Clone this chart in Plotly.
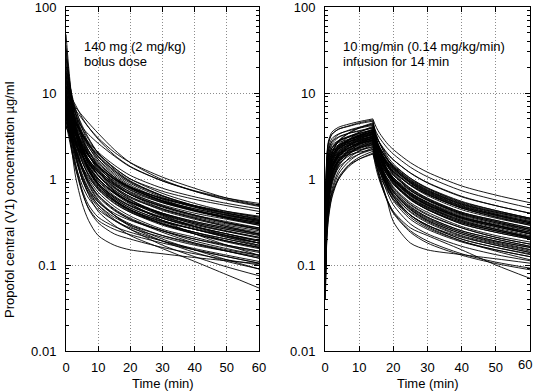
import plotly.graph_objects as go

# ---------------- data ----------------
BOLUS_TIMES = [0, 1, 2, 3, 5, 7, 10, 15, 20, 30, 40, 50, 60]
BOLUS_CONC = [
    [48, 17, 7.5, 4.2, 2.0, 1.3, 0.90, 0.62, 0.48, 0.35, 0.28, 0.23, 0.19],
    [36, 14, 6.5, 3.8, 2.0, 1.35, 0.95, 0.68, 0.54, 0.40, 0.32, 0.27, 0.23],
    [28, 12, 6.0, 3.6, 1.9, 1.3, 0.88, 0.60, 0.46, 0.33, 0.26, 0.21, 0.17],
    [22, 11, 6.2, 4.0, 2.3, 1.6, 1.1, 0.78, 0.60, 0.44, 0.35, 0.29, 0.25],
    [18, 9.5, 5.5, 3.5, 1.9, 1.25, 0.82, 0.55, 0.42, 0.30, 0.24, 0.19, 0.16],
    [15, 9.0, 5.8, 4.0, 2.4, 1.7, 1.2, 0.85, 0.66, 0.48, 0.38, 0.31, 0.26],
    [13, 8.0, 5.0, 3.4, 1.9, 1.3, 0.85, 0.57, 0.44, 0.31, 0.24, 0.20, 0.165],
    [12, 7.8, 5.4, 4.0, 2.6, 1.9, 1.35, 0.95, 0.74, 0.53, 0.42, 0.35, 0.30],
    [11, 6.5, 4.0, 2.6, 1.4, 0.95, 0.65, 0.45, 0.35, 0.25, 0.19, 0.155, 0.13],
    [10, 7.5, 5.8, 4.7, 3.4, 2.7, 2.05, 1.45, 1.1, 0.78, 0.62, 0.52, 0.45],
    [9.5, 6.0, 4.0, 2.8, 1.6, 1.1, 0.75, 0.52, 0.41, 0.30, 0.24, 0.20, 0.17],
    [9.0, 5.2, 3.2, 2.1, 1.15, 0.78, 0.54, 0.38, 0.30, 0.22, 0.175, 0.145, 0.12],
    [8.8, 6.8, 5.4, 4.5, 3.3, 2.6, 1.95, 1.35, 1.0, 0.72, 0.58, 0.49, 0.42],
    [8.5, 6.3, 4.8, 3.8, 2.6, 1.95, 1.4, 0.98, 0.75, 0.54, 0.43, 0.36, 0.31],
    [8.2, 4.8, 2.9, 1.9, 1.0, 0.68, 0.47, 0.33, 0.26, 0.19, 0.15, 0.125, 0.105],
    [8.0, 5.8, 4.3, 3.3, 2.2, 1.6, 1.15, 0.80, 0.62, 0.45, 0.36, 0.30, 0.26],
    [7.8, 7.0, 6.0, 5.2, 4.0, 3.3, 2.6, 1.85, 1.38, 0.95, 0.73, 0.60, 0.52],
    [7.5, 4.2, 2.4, 1.5, 0.72, 0.45, 0.31, 0.23, 0.20, 0.16, 0.135, 0.115, 0.10],
    [7.4, 5.5, 4.2, 3.3, 2.3, 1.7, 1.25, 0.88, 0.68, 0.50, 0.40, 0.34, 0.29],
    [7.2, 5.0, 3.5, 2.6, 1.6, 1.15, 0.80, 0.56, 0.44, 0.32, 0.26, 0.21, 0.18],
    [7.0, 3.6, 1.9, 1.05, 0.52, 0.33, 0.22, 0.17, 0.15, 0.135, 0.122, 0.112, 0.104],
    [7.0, 6.0, 5.1, 4.4, 3.2, 2.5, 1.85, 1.25, 0.92, 0.63, 0.48, 0.39, 0.33],
    [6.8, 4.6, 3.2, 2.3, 1.35, 0.92, 0.62, 0.43, 0.34, 0.25, 0.20, 0.165, 0.14],
    [6.6, 5.2, 4.1, 3.3, 2.3, 1.7, 1.2, 0.80, 0.58, 0.38, 0.28, 0.22, 0.18],
    [6.5, 4.0, 2.6, 1.8, 1.05, 0.75, 0.54, 0.40, 0.33, 0.25, 0.20, 0.17, 0.145],
    [6.3, 5.0, 4.0, 3.3, 2.4, 1.85, 1.4, 1.0, 0.78, 0.56, 0.45, 0.38, 0.33],
    [6.2, 4.3, 3.0, 2.2, 1.3, 0.88, 0.58, 0.38, 0.28, 0.19, 0.14, 0.11, 0.09],
    [6.0, 4.8, 3.8, 3.1, 2.1, 1.55, 1.1, 0.72, 0.52, 0.33, 0.23, 0.17, 0.13],
    [5.8, 4.5, 3.5, 2.8, 1.9, 1.4, 1.0, 0.70, 0.54, 0.40, 0.32, 0.27, 0.23],
    [5.6, 3.6, 2.4, 1.7, 1.0, 0.70, 0.50, 0.36, 0.29, 0.22, 0.18, 0.15, 0.13],
    [5.5, 4.6, 3.8, 3.2, 2.35, 1.85, 1.4, 1.0, 0.80, 0.60, 0.49, 0.42, 0.37],
    [5.3, 3.9, 2.9, 2.2, 1.4, 1.0, 0.70, 0.48, 0.37, 0.26, 0.21, 0.17, 0.145],
    [5.2, 3.2, 2.0, 1.35, 0.75, 0.50, 0.36, 0.28, 0.24, 0.19, 0.155, 0.13, 0.11],
    [5.0, 4.2, 3.5, 2.9, 2.1, 1.6, 1.2, 0.85, 0.66, 0.48, 0.38, 0.32, 0.27],
    [4.8, 3.5, 2.6, 2.0, 1.3, 0.92, 0.64, 0.44, 0.34, 0.24, 0.18, 0.145, 0.12],
    [4.6, 3.9, 3.3, 2.8, 2.1, 1.65, 1.25, 0.90, 0.71, 0.53, 0.43, 0.37, 0.32],
    [4.4, 2.9, 1.9, 1.3, 0.70, 0.46, 0.33, 0.26, 0.225, 0.18, 0.15, 0.125, 0.105],
    [4.2, 3.3, 2.6, 2.1, 1.4, 1.05, 0.76, 0.53, 0.41, 0.29, 0.23, 0.19, 0.16],
    [4.0, 3.4, 2.9, 2.5, 1.9, 1.5, 1.1, 0.75, 0.57, 0.40, 0.31, 0.26, 0.22],
    [9.0, 5.0, 2.9, 1.9, 1.0, 0.66, 0.42, 0.29, 0.22, 0.155, 0.11, 0.077, 0.054],
    [10.5, 6.0, 3.6, 2.4, 1.3, 0.85, 0.56, 0.38, 0.29, 0.20, 0.15, 0.115, 0.09],
    [6.0, 4.0, 2.7, 1.9, 1.1, 0.74, 0.50, 0.34, 0.26, 0.17, 0.125, 0.095, 0.075],
    [12, 8.5, 6.2, 4.8, 3.2, 2.35, 1.7, 1.15, 0.85, 0.58, 0.44, 0.36, 0.31],
    [16, 10, 6.8, 4.9, 3.0, 2.1, 1.45, 1.0, 0.77, 0.56, 0.45, 0.38, 0.33],
    [7.6, 5.8, 4.5, 3.6, 2.5, 1.85, 1.35, 0.93, 0.70, 0.49, 0.38, 0.31, 0.26],
    [5.9, 3.4, 2.1, 1.45, 0.85, 0.60, 0.44, 0.33, 0.27, 0.21, 0.17, 0.145, 0.125],
    [8.6, 5.6, 3.8, 2.7, 1.6, 1.12, 0.78, 0.55, 0.43, 0.32, 0.26, 0.22, 0.19],
    [6.9, 5.4, 4.3, 3.5, 2.5, 1.9, 1.42, 1.02, 0.80, 0.59, 0.48, 0.41, 0.36],
    [9.5, 8.6, 7.6, 6.8, 5.5, 4.5, 3.4, 2.2, 1.55, 0.98, 0.72, 0.57, 0.48],
    [12, 10, 8.4, 7.2, 5.2, 4.0, 2.9, 1.9, 1.4, 0.95, 0.72, 0.58, 0.49],
    [8.5, 7.8, 7.0, 6.3, 5.0, 4.0, 3.0, 2.05, 1.55, 1.05, 0.78, 0.60, 0.50],
    [14, 10.5, 8.0, 6.3, 4.2, 3.0, 2.0, 1.3, 0.95, 0.64, 0.49, 0.40, 0.34],
    [20, 13, 9.0, 6.5, 3.9, 2.6, 1.7, 1.1, 0.82, 0.56, 0.43, 0.35, 0.29],
    [11, 8.8, 7.0, 5.7, 3.9, 2.9, 2.0, 1.35, 1.0, 0.68, 0.52, 0.42, 0.36],
    [10, 7.2, 5.2, 3.9, 2.4, 1.65, 1.1, 0.72, 0.54, 0.37, 0.28, 0.23, 0.19],
    [9.2, 7.5, 6.1, 5.0, 3.5, 2.6, 1.85, 1.25, 0.93, 0.64, 0.49, 0.40, 0.34],
    [25, 14, 8.5, 5.6, 3.0, 1.95, 1.25, 0.82, 0.62, 0.43, 0.34, 0.28, 0.24],
    [32, 15, 7.8, 4.6, 2.3, 1.45, 0.95, 0.64, 0.49, 0.35, 0.28, 0.23, 0.195],
    [16, 11, 7.6, 5.5, 3.2, 2.15, 1.4, 0.90, 0.66, 0.45, 0.35, 0.28, 0.23],
    [7.8, 6.2, 5.0, 4.1, 2.9, 2.15, 1.55, 1.05, 0.79, 0.55, 0.43, 0.35, 0.30],
    [6.4, 5.3, 4.4, 3.7, 2.7, 2.05, 1.5, 1.05, 0.81, 0.59, 0.47, 0.40, 0.35],
    [10.8, 7.0, 4.8, 3.4, 2.0, 1.35, 0.90, 0.60, 0.46, 0.33, 0.26, 0.215, 0.18],
    [7.3, 5.1, 3.7, 2.8, 1.75, 1.25, 0.88, 0.62, 0.49, 0.36, 0.29, 0.245, 0.21],
    [5.4, 4.4, 3.6, 3.0, 2.1, 1.55, 1.1, 0.74, 0.56, 0.39, 0.30, 0.245, 0.205],
    [8.3, 6.0, 4.4, 3.4, 2.15, 1.5, 1.02, 0.68, 0.51, 0.35, 0.27, 0.22, 0.18],
    [13.5, 9.2, 6.4, 4.6, 2.8, 1.9, 1.3, 0.87, 0.66, 0.47, 0.37, 0.31, 0.27],
    [6.1, 4.7, 3.6, 2.85, 1.9, 1.4, 1.0, 0.69, 0.53, 0.38, 0.30, 0.25, 0.21],
    [9.8, 6.6, 4.6, 3.3, 1.95, 1.3, 0.86, 0.57, 0.43, 0.30, 0.23, 0.19, 0.16],
    [4.5, 3.8, 3.1, 2.6, 1.85, 1.4, 1.0, 0.70, 0.54, 0.39, 0.31, 0.26, 0.225],
    [7.9, 6.6, 5.5, 4.6, 3.3, 2.5, 1.8, 1.2, 0.89, 0.61, 0.47, 0.38, 0.32],
    [18, 12, 8.2, 5.9, 3.5, 2.4, 1.6, 1.05, 0.79, 0.55, 0.43, 0.36, 0.31],
    [5.7, 4.3, 3.3, 2.6, 1.7, 1.22, 0.86, 0.58, 0.44, 0.30, 0.23, 0.185, 0.155],
]

INFUSION_TIMES = [0.1, 0.5, 1, 2, 4, 7, 10, 14, 15, 16, 18, 20, 25, 30, 40, 50, 60]
INFUSION_STOP = 14
INFUSION_CONC = [
    [0.40, 1.75, 2.75, 3.5, 4.0, 4.35, 4.65, 5.0, 4.0, 3.4, 2.65, 2.2, 1.55, 1.2, 0.83, 0.65, 0.53],
    [0.38, 1.6, 2.6, 3.3, 3.8, 4.1, 4.4, 4.7, 3.3, 2.6, 1.8, 1.38, 0.9, 0.68, 0.47, 0.38, 0.31],
    [0.13, 0.62, 1.2, 1.95, 2.75, 3.4, 3.9, 4.4, 3.5, 3.0, 2.35, 1.95, 1.37, 1.06, 0.73, 0.57, 0.46],
    [0.34, 1.45, 2.3, 2.95, 3.35, 3.65, 3.9, 4.2, 2.3, 1.6, 0.92, 0.63, 0.38, 0.29, 0.21, 0.17, 0.14],
    [0.12, 0.56, 1.08, 1.76, 2.5, 3.1, 3.5, 4.0, 2.8, 2.2, 1.52, 1.16, 0.76, 0.58, 0.40, 0.32, 0.26],
    [0.30, 1.35, 2.15, 2.7, 3.1, 3.4, 3.6, 3.9, 2.75, 2.15, 1.48, 1.13, 0.74, 0.57, 0.39, 0.31, 0.26],
    [0.08, 0.34, 0.65, 1.14, 1.9, 2.65, 3.2, 3.8, 3.05, 2.6, 2.0, 1.67, 1.18, 0.91, 0.63, 0.49, 0.40],
    [0.11, 0.52, 1.0, 1.63, 2.3, 2.85, 3.25, 3.7, 2.05, 1.4, 0.82, 0.56, 0.34, 0.26, 0.185, 0.15, 0.125],
    [0.11, 0.5, 0.97, 1.58, 2.25, 2.8, 3.15, 3.6, 2.7, 2.2, 1.6, 1.25, 0.85, 0.66, 0.46, 0.37, 0.30],
    [0.28, 1.2, 1.9, 2.45, 2.8, 3.05, 3.25, 3.5, 2.45, 1.9, 1.33, 1.0, 0.66, 0.5, 0.35, 0.28, 0.23],
    [0.07, 0.31, 0.58, 1.0, 1.7, 2.4, 2.9, 3.4, 2.4, 1.85, 1.3, 0.98, 0.65, 0.49, 0.34, 0.27, 0.22],
    [0.10, 0.46, 0.9, 1.45, 2.05, 2.55, 2.9, 3.3, 2.65, 2.25, 1.75, 1.45, 1.02, 0.79, 0.55, 0.43, 0.35],
    [0.10, 0.45, 0.86, 1.4, 2.0, 2.45, 2.8, 3.2, 2.0, 1.45, 0.92, 0.66, 0.41, 0.31, 0.215, 0.17, 0.14],
    [0.25, 1.08, 1.7, 2.15, 2.5, 2.7, 2.9, 3.1, 2.15, 1.7, 1.18, 0.9, 0.59, 0.45, 0.31, 0.25, 0.205],
    [0.06, 0.27, 0.51, 0.9, 1.5, 2.1, 2.55, 3.0, 2.4, 2.05, 1.6, 1.32, 0.93, 0.72, 0.5, 0.39, 0.32],
    [0.09, 0.42, 0.81, 1.32, 1.86, 2.3, 2.65, 3.0, 2.1, 1.65, 1.14, 0.87, 0.57, 0.44, 0.30, 0.24, 0.20],
    [0.09, 0.40, 0.78, 1.28, 1.8, 2.23, 2.55, 2.9, 1.7, 1.1, 0.6, 0.32, 0.18, 0.15, 0.132, 0.118, 0.105],
    [0.22, 0.98, 1.55, 1.95, 2.25, 2.45, 2.6, 2.8, 2.25, 1.9, 1.48, 1.23, 0.87, 0.67, 0.46, 0.36, 0.29],
    [0.06, 0.25, 0.48, 0.84, 1.4, 1.96, 2.38, 2.8, 1.96, 1.54, 1.06, 0.81, 0.53, 0.41, 0.28, 0.22, 0.185],
    [0.08, 0.38, 0.73, 1.19, 1.67, 2.08, 2.38, 2.7, 1.5, 1.03, 0.6, 0.41, 0.25, 0.19, 0.135, 0.108, 0.092],
    [0.08, 0.36, 0.70, 1.14, 1.6, 2.0, 2.29, 2.6, 1.95, 1.58, 1.15, 0.9, 0.61, 0.47, 0.33, 0.26, 0.21],
    [0.05, 0.23, 0.43, 0.75, 1.25, 1.75, 2.12, 2.5, 2.0, 1.7, 1.33, 1.1, 0.78, 0.6, 0.41, 0.33, 0.27],
    [0.20, 0.88, 1.38, 1.75, 2.0, 2.18, 2.32, 2.5, 1.75, 1.38, 0.95, 0.73, 0.48, 0.36, 0.25, 0.20, 0.165],
    [0.07, 0.34, 0.65, 1.05, 1.49, 1.85, 2.11, 2.4, 1.68, 1.32, 0.91, 0.7, 0.46, 0.35, 0.24, 0.19, 0.16],
    [0.05, 0.21, 0.40, 0.69, 1.15, 1.6, 1.95, 2.3, 1.6, 1.26, 0.87, 0.67, 0.44, 0.33, 0.23, 0.185, 0.152],
    [0.07, 0.31, 0.59, 0.97, 1.36, 1.7, 1.94, 2.2, 1.76, 1.5, 1.17, 0.97, 0.68, 0.53, 0.36, 0.29, 0.23],
    [0.04, 0.19, 0.36, 0.63, 1.05, 1.47, 1.79, 2.1, 1.3, 0.95, 0.6, 0.42, 0.27, 0.22, 0.15, 0.10, 0.07],
    [0.04, 0.18, 0.34, 0.6, 1.0, 1.4, 1.7, 2.0, 1.4, 1.1, 0.76, 0.58, 0.38, 0.29, 0.20, 0.16, 0.132],
    [0.07, 0.28, 0.45, 0.68, 1.0, 1.45, 1.7, 1.95, 1.56, 1.33, 1.03, 0.86, 0.6, 0.47, 0.32, 0.25, 0.205],
    [0.26, 1.15, 1.8, 2.3, 2.65, 2.9, 3.08, 3.3, 1.8, 1.25, 0.73, 0.5, 0.30, 0.23, 0.165, 0.132, 0.112],
    [0.07, 0.32, 0.61, 1.08, 1.8, 2.5, 3.05, 3.6, 2.5, 1.98, 1.37, 1.04, 0.68, 0.52, 0.36, 0.29, 0.24],
    [0.14, 0.63, 1.22, 1.98, 2.8, 3.45, 3.95, 4.5, 2.9, 2.1, 1.3, 0.93, 0.58, 0.44, 0.30, 0.24, 0.20],
    [0.19, 0.82, 1.3, 1.65, 1.88, 2.05, 2.18, 2.35, 1.88, 1.6, 1.25, 1.03, 0.73, 0.56, 0.39, 0.31, 0.25],
    [0.08, 0.37, 0.72, 1.17, 1.64, 2.04, 2.33, 2.65, 1.7, 1.25, 0.8, 0.58, 0.36, 0.27, 0.19, 0.15, 0.125],
    [0.06, 0.28, 0.54, 0.95, 1.58, 2.2, 2.68, 3.15, 2.05, 1.52, 0.98, 0.71, 0.44, 0.33, 0.23, 0.18, 0.15],
    [0.24, 1.03, 1.62, 2.07, 2.36, 2.57, 2.75, 2.95, 2.35, 2.0, 1.55, 1.28, 0.9, 0.7, 0.48, 0.38, 0.31],
    [0.18, 0.77, 1.21, 1.54, 1.76, 1.91, 2.05, 2.2, 1.54, 1.21, 0.84, 0.64, 0.42, 0.32, 0.22, 0.176, 0.145],
    [0.08, 0.37, 0.70, 1.23, 2.05, 2.87, 3.48, 4.1, 2.87, 2.25, 1.56, 1.19, 0.78, 0.59, 0.41, 0.33, 0.27],
    [0.10, 0.48, 0.93, 1.52, 2.14, 2.66, 3.04, 3.45, 2.6, 2.1, 1.55, 1.22, 0.84, 0.64, 0.44, 0.35, 0.29],
    [0.08, 0.36, 0.69, 1.12, 1.58, 1.96, 2.24, 2.55, 1.45, 1.0, 0.58, 0.4, 0.24, 0.18, 0.13, 0.104, 0.088],
    [0.09, 0.42, 0.81, 1.32, 1.86, 2.3, 2.65, 3.0, 1.9, 1.4, 0.88, 0.63, 0.38, 0.28, 0.19, 0.145, 0.115],
    [0.36, 1.6, 2.6, 3.3, 3.8, 4.15, 4.5, 4.85, 3.0, 2.2, 1.35, 0.95, 0.6, 0.46, 0.32, 0.26, 0.21],
    [0.20, 0.9, 1.5, 2.1, 2.7, 3.1, 3.4, 3.75, 2.9, 2.35, 1.72, 1.36, 0.92, 0.71, 0.49, 0.39, 0.32],
    [0.15, 0.68, 1.2, 1.8, 2.4, 2.85, 3.15, 3.5, 2.4, 1.8, 1.2, 0.9, 0.58, 0.44, 0.31, 0.25, 0.21],
    [0.12, 0.55, 1.0, 1.6, 2.2, 2.7, 3.0, 3.35, 2.6, 2.15, 1.62, 1.3, 0.9, 0.69, 0.48, 0.38, 0.31],
    [0.30, 1.3, 2.1, 2.75, 3.3, 3.7, 4.0, 4.3, 3.2, 2.6, 1.9, 1.5, 1.02, 0.78, 0.54, 0.43, 0.35],
    [0.09, 0.42, 0.8, 1.35, 1.95, 2.45, 2.8, 3.15, 2.3, 1.8, 1.25, 0.96, 0.63, 0.48, 0.33, 0.26, 0.215],
    [0.16, 0.72, 1.22, 1.75, 2.25, 2.6, 2.85, 3.1, 2.5, 2.12, 1.66, 1.38, 0.97, 0.75, 0.52, 0.41, 0.34],
    [0.11, 0.5, 0.92, 1.45, 1.95, 2.3, 2.55, 2.85, 2.0, 1.55, 1.05, 0.79, 0.51, 0.39, 0.27, 0.21, 0.175],
    [0.22, 1.0, 1.65, 2.25, 2.75, 3.1, 3.35, 3.65, 2.6, 2.05, 1.45, 1.12, 0.74, 0.57, 0.40, 0.32, 0.26],
    [0.07, 0.33, 0.63, 1.08, 1.65, 2.15, 2.5, 2.85, 2.1, 1.7, 1.22, 0.95, 0.64, 0.5, 0.35, 0.28, 0.23],
    [0.13, 0.6, 1.1, 1.7, 2.35, 2.85, 3.2, 3.55, 2.15, 1.55, 0.98, 0.71, 0.45, 0.34, 0.24, 0.19, 0.16],
    [0.26, 1.15, 1.9, 2.55, 3.05, 3.4, 3.65, 3.95, 3.15, 2.65, 2.05, 1.68, 1.17, 0.9, 0.62, 0.49, 0.40],
    [0.10, 0.45, 0.85, 1.38, 1.95, 2.4, 2.72, 3.05, 2.25, 1.78, 1.25, 0.97, 0.65, 0.5, 0.35, 0.28, 0.23],
    [0.18, 0.8, 1.35, 1.9, 2.4, 2.75, 3.0, 3.3, 2.35, 1.85, 1.3, 1.0, 0.67, 0.51, 0.36, 0.29, 0.24],
    [0.08, 0.37, 0.7, 1.15, 1.7, 2.15, 2.45, 2.75, 2.2, 1.86, 1.45, 1.2, 0.85, 0.66, 0.46, 0.36, 0.30],
    [0.14, 0.64, 1.15, 1.75, 2.3, 2.7, 2.95, 3.25, 1.95, 1.38, 0.85, 0.61, 0.38, 0.29, 0.20, 0.16, 0.135],
    [0.24, 1.05, 1.7, 2.3, 2.8, 3.15, 3.4, 3.7, 2.85, 2.35, 1.75, 1.4, 0.96, 0.74, 0.51, 0.41, 0.34],
    [0.06, 0.28, 0.53, 0.92, 1.45, 1.95, 2.3, 2.65, 1.85, 1.45, 1.0, 0.77, 0.5, 0.38, 0.27, 0.21, 0.175],
    [0.17, 0.76, 1.3, 1.85, 2.45, 2.9, 3.2, 3.5, 2.75, 2.3, 1.75, 1.42, 0.99, 0.77, 0.53, 0.42, 0.35],
    [0.12, 0.54, 1.0, 1.55, 2.1, 2.5, 2.78, 3.1, 2.3, 1.85, 1.33, 1.04, 0.7, 0.54, 0.38, 0.30, 0.25],
    [0.10, 0.47, 0.88, 1.4, 1.92, 2.3, 2.55, 2.85, 2.15, 1.75, 1.28, 1.01, 0.69, 0.53, 0.37, 0.29, 0.24],
    [0.20, 0.88, 1.45, 2.0, 2.5, 2.85, 3.1, 3.4, 2.2, 1.6, 1.02, 0.74, 0.47, 0.36, 0.25, 0.20, 0.165],
    [0.09, 0.41, 0.78, 1.28, 1.85, 2.3, 2.62, 2.95, 2.4, 2.05, 1.6, 1.33, 0.94, 0.73, 0.51, 0.40, 0.33],
]

X_TICKS = [0, 10, 20, 30, 40, 50, 60]
X_TICK_LABELS = ["0", "10", "20", "30", "40", "50", "60"]
Y_TICKS = [0.01, 0.1, 1, 10, 100]
Y_TICK_LABELS = ["0.01", "0.1", "1", "10", "100"]
BOLUS_LABEL = ["140 mg (2 mg/kg)", "bolus dose"]
INFUSION_LABEL = ["10 mg/min (0.14 mg/kg/min)", "infusion for 14 min"]
X_TITLE = "Time (min)"
Y_TITLE = "Propofol central (V1) concentration µg/ml"

# ---------------- layout helpers (pixel geometry) ----------------
W, H = 540, 391
def fx(px):
    return px / W
def fy(py):
    return 1 - py / H

FONT = "Liberation Sans, Arial, Helvetica, sans-serif"
LINE = dict(color="black", width=0.9, shape="spline", smoothing=0.8)
GRID_DASH = "1px,2px"

fig = go.Figure()

for conc in BOLUS_CONC:
    fig.add_trace(go.Scatter(x=BOLUS_TIMES, y=conc, mode="lines", line=LINE,
                             xaxis="x", yaxis="y", hoverinfo="skip", showlegend=False))

stop_i = INFUSION_TIMES.index(INFUSION_STOP)
for conc in INFUSION_CONC:
    fig.add_trace(go.Scatter(x=INFUSION_TIMES[:stop_i + 1], y=conc[:stop_i + 1], mode="lines",
                             line=LINE, xaxis="x2", yaxis="y2", hoverinfo="skip", showlegend=False))
    fig.add_trace(go.Scatter(x=INFUSION_TIMES[stop_i:], y=conc[stop_i:], mode="lines",
                             line=LINE, xaxis="x2", yaxis="y2", hoverinfo="skip", showlegend=False))

minor_vals = [m * 10 ** e for e in range(-2, 2) for m in range(2, 10)]

def xaxis(domain, anchor, labels):
    return dict(domain=domain, anchor=anchor, range=[0, 60], tickvals=X_TICKS, ticktext=labels,
                ticks="inside", ticklen=5, tickwidth=1, tickcolor="black",
                showline=True, linecolor="black", linewidth=1, mirror="ticks",
                showgrid=True, gridcolor="#8c8c8c", griddash=GRID_DASH, gridwidth=1,
                zeroline=False, ticklabelstandoff=4, ticklabeloverflow="allow",
                tickfont=dict(family=FONT, size=13, color="black"))

def yaxis(anchor):
    return dict(domain=[fy(351), fy(7)], anchor=anchor, type="log", range=[-2, 2],
                tickvals=Y_TICKS, ticktext=Y_TICK_LABELS,
                ticks="inside", ticklen=5, tickwidth=1, tickcolor="black",
                minor=dict(tickvals=minor_vals, ticks="inside", ticklen=3,
                           tickcolor="black", tickwidth=1, showgrid=False),
                showline=True, linecolor="black", linewidth=1, mirror="ticks",
                showgrid=True, gridcolor="#8c8c8c", griddash=GRID_DASH, gridwidth=1,
                zeroline=False, ticklabelstandoff=6, ticklabeloverflow="allow",
                tickfont=dict(family=FONT, size=13, color="black"))

# the last label of the right panel sits a little inside the frame (as in the reference),
# so it is written as a separate text instead of an axis label
right_labels = X_TICK_LABELS[:-1] + [""]

annotations = []
def text(s, px, py, xanchor="left", angle=0):
    annotations.append(dict(text=s, x=fx(px), y=fy(py), xref="paper", yref="paper",
                            xanchor=xanchor, yanchor="middle", showarrow=False,
                            textangle=angle, font=dict(family=FONT, size=13, color="black")))

text(BOLUS_LABEL[0], 82, 46)
text(BOLUS_LABEL[1], 82, 61)
text(INFUSION_LABEL[0], 341, 46)
text(INFUSION_LABEL[1], 341, 61)
text(X_TITLE, 162.5, 383, xanchor="center")
text(X_TITLE, 427.5, 383, xanchor="center")
text(Y_TITLE, 9, 200, xanchor="center", angle=-90)
text(X_TICK_LABELS[-1], 525, 364, xanchor="center")

fig.update_layout(
    width=W, height=H,
    margin=dict(l=0, r=0, t=0, b=0, autoexpand=False),
    paper_bgcolor="white", plot_bgcolor="white",
    xaxis=xaxis([fx(66), fx(259)], "y", X_TICK_LABELS),
    yaxis=yaxis("x"),
    xaxis2=xaxis([fx(325), fx(530)], "y2", right_labels),
    yaxis2=yaxis("x2"),
    annotations=annotations,
    hovermode=False,
)

# remove the default page margin so the figure fills the 540x391 window exactly
fig.write_html("out.html",
               config={"displayModeBar": False, "staticPlot": True},
               post_script="document.body.style.margin='0';document.body.style.overflow='hidden';")
